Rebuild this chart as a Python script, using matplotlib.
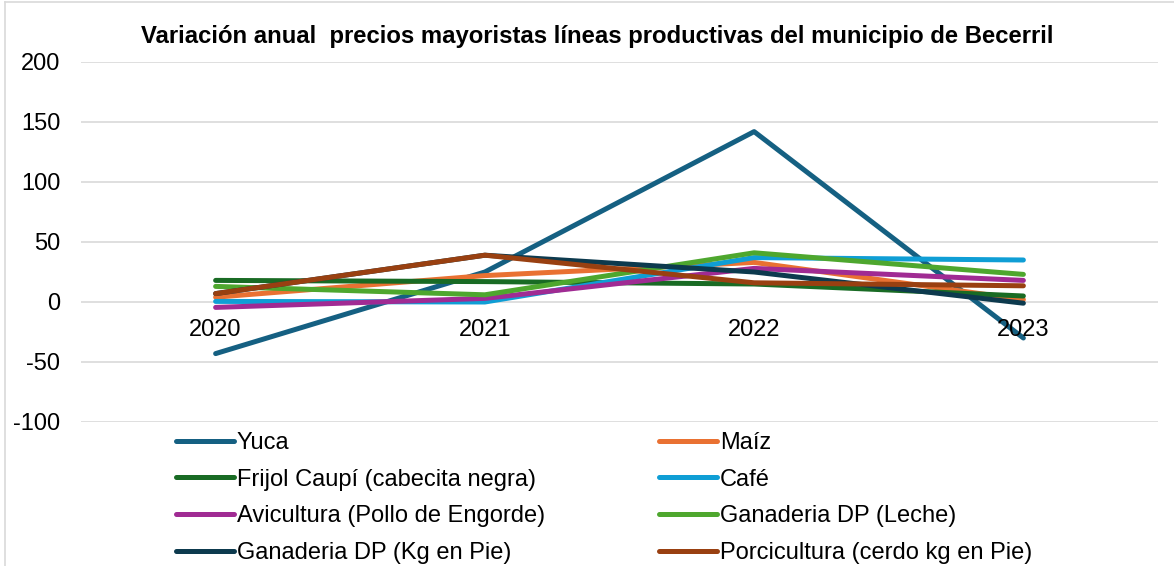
import matplotlib
matplotlib.use("Agg")
import matplotlib.pyplot as plt
from matplotlib.lines import Line2D

years = ["2020", "2021", "2022", "2023"]
series_names = [
    "Yuca", "Maíz", "Frijol Caupí (cabecita negra)", "Café",
    "Avicultura (Pollo de Engorde)", "Ganaderia DP (Leche)",
    "Ganaderia DP (Kg en Pie)", "Porcicultura (cerdo kg en Pie)",
]
yuca = [-43, 25, 142, -30]
maiz = [4, 22, 33, 2]
frijol = [18, 17, 15, 5]
cafe = [0.5, 0, 37, 35]
avicultura = [-4.5, 3, 28, 18]
leche = [13, 6, 41, 23]
kg_pie = [7, 39, 25, -1]
porcicultura = [7, 39, 16, 13.5]
values = [yuca, maiz, frijol, cafe, avicultura, leche, kg_pie, porcicultura]
colors = ["#156082", "#E97132", "#196B24", "#0F9ED5",
          "#A02B93", "#4EA72E", "#0D3A4E", "#994011"]
yticks = [-100, -50, 0, 50, 100, 150, 200]

plt.rcParams["font.family"] = ["Liberation Sans", "DejaVu Sans"]

W, H = 1174, 566
FS = 17
fig = plt.figure(figsize=(W / 100, H / 100), dpi=100)
ax = fig.add_axes([81 / W, 1 - 422 / H, (1158 - 81) / W, (422 - 62) / H])

x = list(range(len(years)))
handles = []
for name, vals, c in zip(series_names, values, colors):
    ln, = ax.plot(x, vals, color=c, lw=3.6, solid_capstyle="round",
                  solid_joinstyle="round", label=name)
    handles.append(ln)

ax.set_xlim(-0.5, len(years) - 0.5)
ax.set_ylim(-100, 200)
ax.set_yticks(yticks)
ax.set_yticklabels([str(v) for v in yticks], fontsize=FS)
ax.tick_params(axis="y", length=0, pad=15)
ax.set_xticks([])
ax.grid(axis="y", color="#D9D9D9", lw=1.2)
ax.set_axisbelow(True)
for s in ax.spines.values():
    s.set_visible(False)

for i, yr in enumerate(years):
    ax.annotate(yr, xy=(i, 0), xytext=(0, -17), textcoords="offset pixels",
                ha="center", va="top", fontsize=FS)

fig.text(597 / W, 1 - 37 / H,
         "Variación anual  precios mayoristas líneas productivas del municipio de Becerril",
         ha="center", va="center", fontsize=17.2, fontweight="bold")

# legend in two columns
col1 = [handles[i] for i in (0, 2, 4, 6)]
col2 = [handles[i] for i in (1, 3, 5, 7)]
common = dict(frameon=False, fontsize=FS, handlelength=2.45, handletextpad=0.13,
              labelspacing=0.62, borderpad=0, borderaxespad=0)
leg1 = fig.legend(col1, [h.get_label() for h in col1],
                  loc="upper left", bbox_to_anchor=(176 / W, 1 - 432 / H), **common)
leg2 = fig.legend(col2, [h.get_label() for h in col2],
                  loc="upper left", bbox_to_anchor=(659 / W, 1 - 432 / H), **common)

# chart frame
fig.add_artist(Line2D([5 / W, 5 / W], [0, 1 - 2 / H], color="#D9D9D9", lw=1.2,
                      transform=fig.transFigure))
fig.add_artist(Line2D([5 / W, 1], [1 - 2 / H, 1 - 2 / H], color="#D9D9D9", lw=1.2,
                      transform=fig.transFigure))

fig.savefig("out.png", dpi=100)
